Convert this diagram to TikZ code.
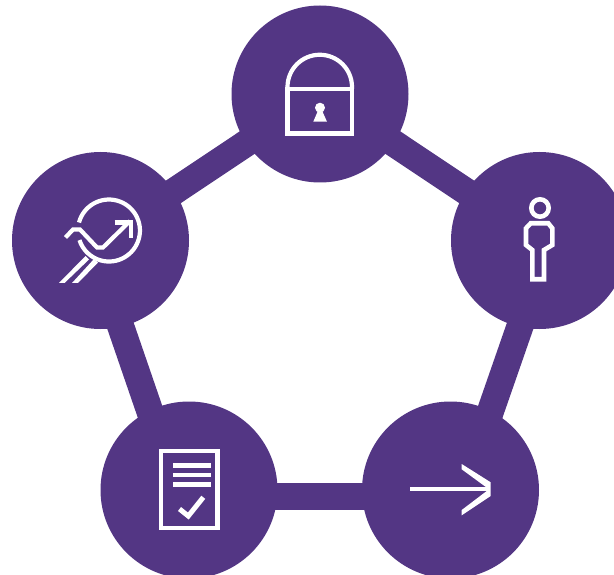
\documentclass[tikz,border=0pt]{standalone}
\usetikzlibrary{backgrounds}
\definecolor{brandpurple}{HTML}{533684}
\tikzset{
  hub/.style={circle,fill=brandpurple,minimum size=177pt,inner sep=0pt,outer sep=0pt},
  link/.style={draw=brandpurple,line width=27pt},
  glyph/.style={draw=white,line width=4.2pt,miter limit=10}
}
\begin{document}
\begin{tikzpicture}[x=1pt,y=-1pt]
\useasboundingbox (0,0) rectangle (614,575);
\node[hub] (top) at (320,94) {};
\node[hub] (right) at (539.5,240.5) {};
\node[hub] (lr) at (450.5,490) {};
\node[hub] (ll) at (189,490) {};
\node[hub] (left) at (100.5,240.5) {};
\coordinate (jr) at (550,240);
\coordinate (jlr) at (461,496);
\coordinate (jll) at (179,496);
\coordinate (jl) at (91,240);
\begin{scope}[on background layer]
\draw[link] (top.center) -- (right.center);
\draw[link] (jr) -- (jlr);
\draw[link] (jlr) -- (jll);
\draw[link] (jll) -- (jl);
\draw[link] (left.center) -- (top.center);
\end{scope}
% lock
\draw[glyph] (287.5,89) -- (287.5,133.5) -- (352,133.5) -- (352,89) -- cycle;
\draw[glyph] (287.5,89) -- (287.5,87) arc[start angle=180,end angle=360,radius=32.25] -- (352,89);
\fill[white] (320,107.7) circle[radius=5];
\fill[white] (320,106) -- (327,121.7) -- (313.3,121.7) -- cycle;
% trend / magnifier
\draw[glyph] (79,222.5) arc[start angle=195,end angle=522,radius=31];
\draw[glyph] (65.5,237.5) -- (73,229.5) -- (80,229.5) -- (97,247.5) -- (103,247.5) -- (130,221);
\draw[glyph] (114.5,222.5) -- (131,222.5) -- (131,238.5);
\fill[white] (59,283) -- (64.5,283) -- (89,259.5) -- (85.5,256) -- cycle;
\fill[white] (72,283) -- (78,283) -- (98,262.5) -- (94,259) -- cycle;
% person
\draw[glyph,line width=4.6pt] (540,208) circle[radius=8.7];
\draw[glyph,line width=4.6pt] (532.3,279.3) -- (544,279.3) -- (544,250) -- (552.3,245) -- (552.3,228.3) -- (548.3,223.3) -- (530.7,223.3) -- (526,228.3) -- (526,245) -- (532.3,250) -- cycle;
% document
\draw[glyph,line width=4.6pt] (161,451) rectangle (217.3,528);
\draw[glyph,line width=4.6pt] (173.3,465.3) -- (211,465.3);
\draw[glyph,line width=4.6pt] (173.3,474.8) -- (211,474.8);
\draw[glyph,line width=4.6pt] (173.3,484.5) -- (211,484.5);
\draw[glyph,line width=5pt] (179.5,509) -- (188.3,516) -- (203.3,497.3);
% arrow
\draw[glyph,line width=4.2pt] (410,489.3) -- (490,489.3);
\fill[white] (461.7,464) -- (490.7,482.3) -- (490.7,496) -- (461.7,515.3) -- (461.7,510) -- (489,489.3) -- (461.7,469.3) -- cycle;
\end{tikzpicture}
\end{document}
